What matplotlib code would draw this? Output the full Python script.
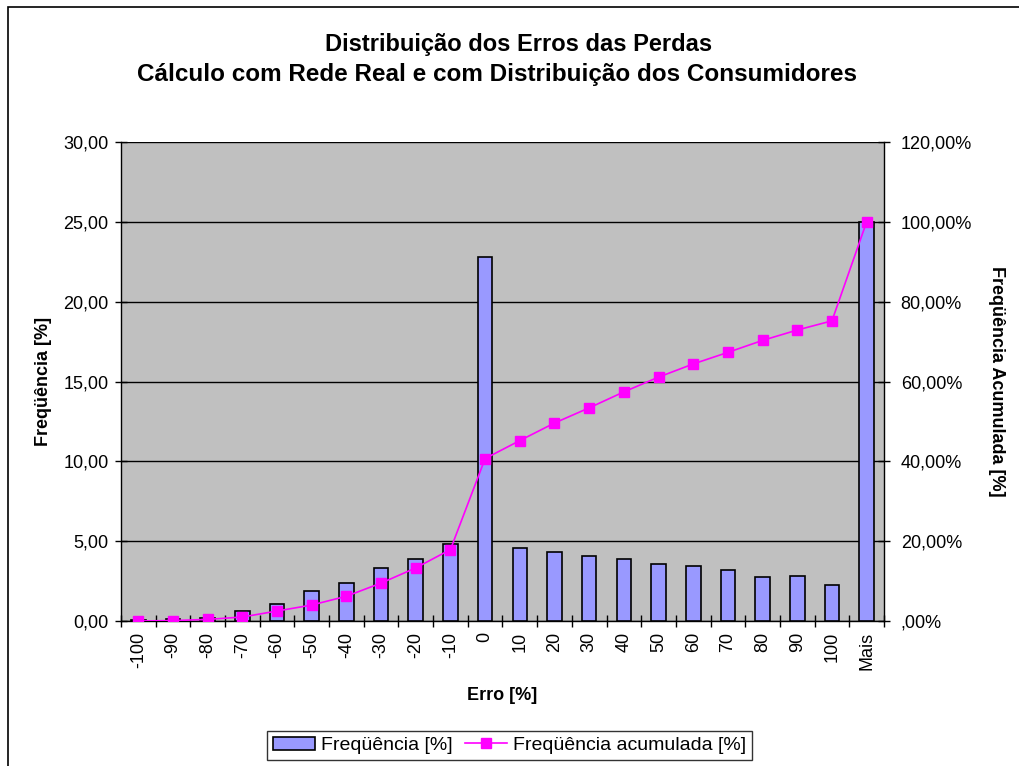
import numpy as np
import matplotlib
matplotlib.use('Agg')
import matplotlib.pyplot as plt
from matplotlib.patches import Rectangle
from matplotlib.ticker import FuncFormatter, MultipleLocator

plt.rcParams['font.family'] = ['Liberation Sans', 'DejaVu Sans']

# Data
categorias = ['-100', '-90', '-80', '-70', '-60', '-50', '-40', '-30', '-20', '-10', '0',
              '10', '20', '30', '40', '50', '60', '70', '80', '90', '100', 'Mais']
frequencia = [0.05, 0.10, 0.20, 0.60, 1.05, 1.90, 2.35, 3.30, 3.90, 4.80, 22.80,
              4.57, 4.30, 4.05, 3.90, 3.55, 3.45, 3.20, 2.75, 2.80, 2.25, 25.00]
acumulada = [0.0, 0.1, 0.4, 1.0, 2.5, 4.0, 6.2, 9.5, 13.3, 17.9, 40.7,
             45.2, 49.6, 53.4, 57.4, 61.1, 64.4, 67.3, 70.3, 72.9, 75.2, 100.0]

x = np.arange(len(categorias))
fs = 13

fig = plt.figure(figsize=(10.19, 7.66), dpi=100)
ax = fig.add_axes([0.1187, 0.1893, 0.7488, 0.6253])

# outer chart border (runs off right/bottom edge like the original)
fig.add_artist(Rectangle((8 / 1019, -0.1), 1.2, 1 - 7 / 766 + 0.1, transform=fig.transFigure,
                         fill=False, edgecolor='black', linewidth=1.2))

ax.set_facecolor('#C0C0C0')
ax.bar(x, frequencia, width=0.42, color='#9999FF', edgecolor='black', linewidth=1.2,
       label='Freqüência [%]', zorder=3)
ax.set_xlim(-0.5, len(categorias) - 0.5)
ax.set_ylim(0, 30)
ax.yaxis.set_major_locator(MultipleLocator(5))
ax.yaxis.set_major_formatter(FuncFormatter(lambda v, p: f'{v:.2f}'.replace('.', ',')))
ax.grid(axis='y', color='black', linewidth=1, zorder=1)
ax.set_axisbelow(True)

ax.set_xticks(x)
ax.set_xticklabels(categorias, rotation=90)
ax.set_xticks(np.arange(-0.5, len(categorias)), minor=True)
ax.tick_params(axis='x', which='major', length=0, pad=8, labelsize=fs)
ax.tick_params(axis='x', which='minor', length=8, direction='inout', width=1)
ax.tick_params(axis='y', length=8, direction='inout', width=1, labelsize=fs, pad=5)

for s in ['top', 'right']:
    ax.spines[s].set_visible(False)
ax.spines['left'].set_linewidth(1)
ax.spines['bottom'].set_linewidth(1)

ax.set_xlabel('Erro [%]', fontsize=fs, fontweight='bold', labelpad=12)
ax.set_ylabel('Freqüência [%]', fontsize=fs, fontweight='bold', labelpad=8)

ax2 = ax.twinx()
ax2.plot(x, np.array(acumulada) / 100, color='#FF00FF', linewidth=1.2, marker='s',
         markersize=7, label='Freqüência acumulada [%]')
ax2.set_ylim(0, 1.2)
ax2.yaxis.set_major_locator(MultipleLocator(0.2))


def pct(v, p):
    s = f'{v * 100:.2f}'.replace('.', ',') + '%'
    return s[1:] if s.startswith('0,') else s


ax2.yaxis.set_major_formatter(FuncFormatter(pct))
ax2.tick_params(axis='y', length=8, direction='inout', width=1, labelsize=fs, pad=8)
for s in ['top', 'left', 'bottom']:
    ax2.spines[s].set_visible(False)
ax2.spines['right'].set_linewidth(1)
ax2.set_ylabel('Freqüência Acumulada [%]', fontsize=fs, fontweight='bold',
               rotation=-90, labelpad=24)

fig.text(0.509, 0.942, 'Distribuição dos Erros das Perdas', ha='center', va='center',
         fontsize=17, fontweight='bold')
fig.text(0.488, 0.903, 'Cálculo com Rede Real e com Distribuição dos Consumidores',
         ha='center', va='center', fontsize=17.5, fontweight='bold')

h1, l1 = ax.get_legend_handles_labels()
h2, l2 = ax2.get_legend_handles_labels()
leg = fig.legend(h1 + h2, l1 + l2, loc='center', bbox_to_anchor=(0.500, 0.027), ncol=2,
                 fontsize=14, frameon=True, fancybox=False, edgecolor='black',
                 handlelength=2.2, handletextpad=0.3, columnspacing=0.6, borderpad=0.3)
leg.get_frame().set_linewidth(1)

fig.savefig('out.png', dpi=100)
